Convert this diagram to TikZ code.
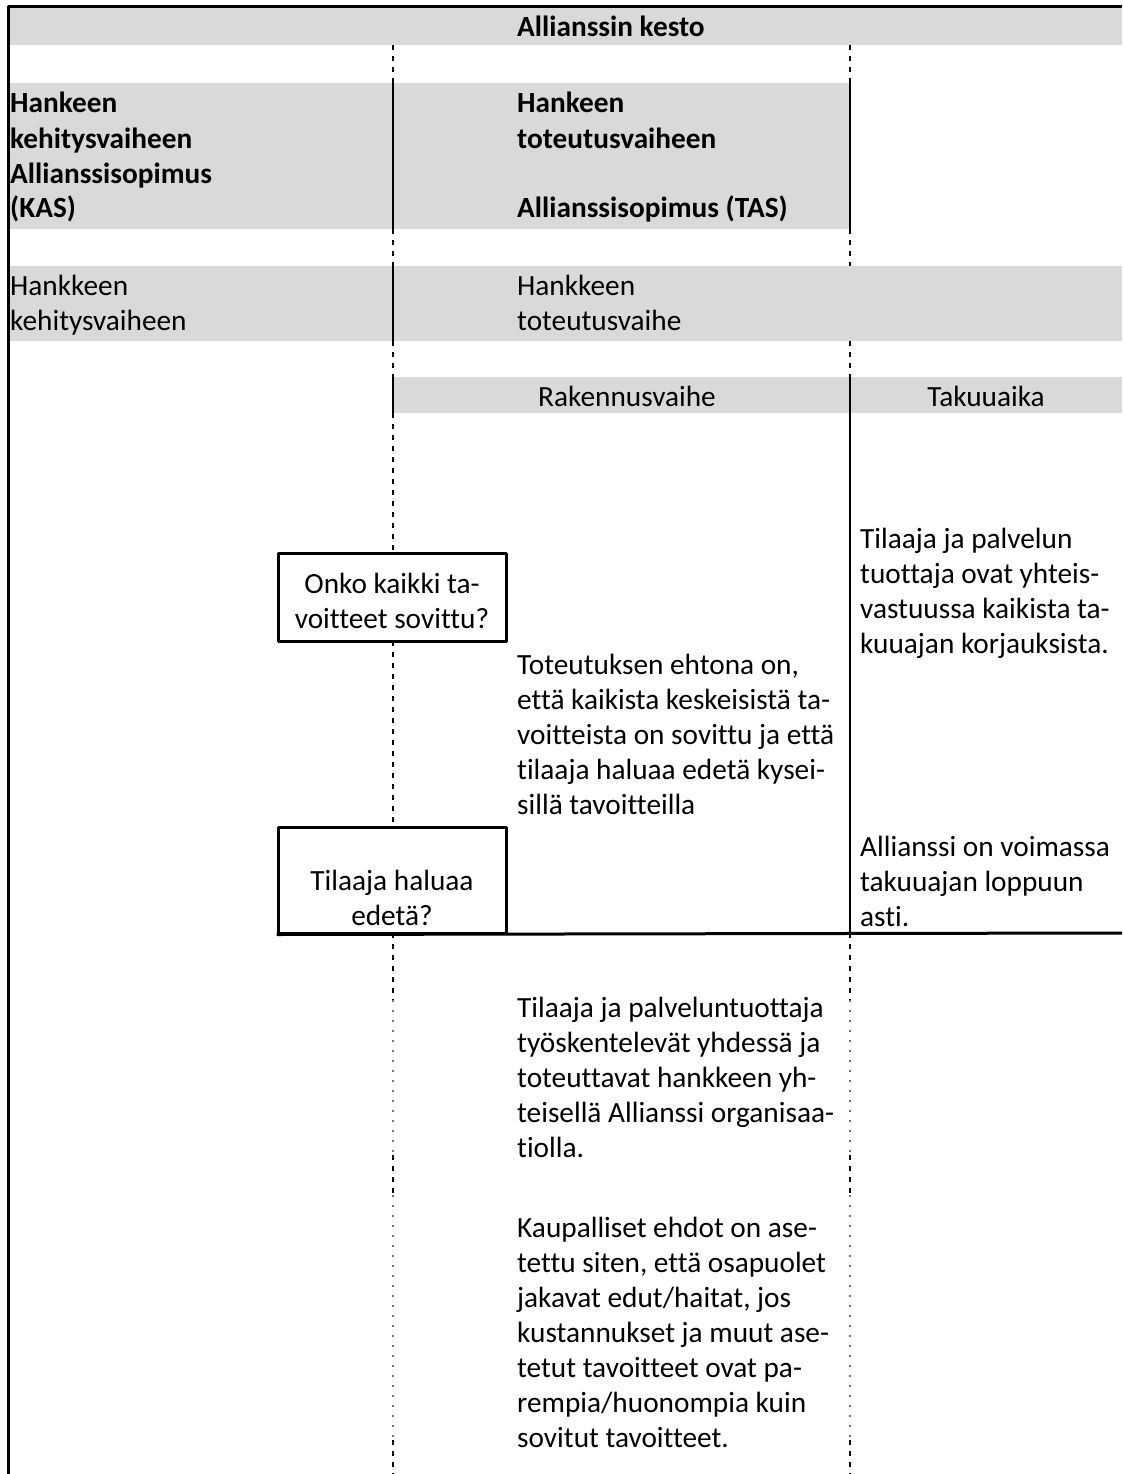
\documentclass[tikz,border=0pt]{standalone}
\usepackage{fontspec}
\setmainfont{Carlito}[Ligatures=NoCommon]
\definecolor{band}{HTML}{D9D9D9}
\begin{document}
\begin{tikzpicture}[x=1pt,y=-1pt,line join=round,
		txt/.style={anchor=base west,align=left,inner sep=0pt,font=\fontsize{29.3}{35}\selectfont},
		hd/.style={txt,font=\fontsize{29.3}{35}\selectfont\bfseries},
		mid/.style={txt,anchor=base,align=center},
		rule/.style={line width=2pt},
		split/.style={line width=2pt,dash pattern=on 5pt off 6pt},
		dots/.style={line width=1.6pt,dash pattern=on 1.6pt off 8.4pt,black!55},
		qbox/.style={draw,line width=3pt,fill=white,minimum width=228pt,inner sep=0pt}]
			\useasboundingbox (0,0) rectangle (1122,1474);
			\fill[band] (8,8) rectangle (1122,45);
			\fill[band] (8,83) rectangle (850,229);
			\fill[band] (8,266) rectangle (1122,341);
			\fill[band] (393,377) rectangle (1122,413);
			\foreach \x in {393,850}{
				\draw[rule] (\x,83)--(\x,229);
				\draw[rule] (\x,377)--(\x,413);
				\foreach \a/\b in {45/83,229/266,341/377,933/1000,1155/1195,1440/1474}
				{\draw[split] (\x,\a)--(\x,\b);}
				\foreach \a/\b in {1000/1155,1195/1440}
				{\draw[dots] (\x,\a)--(\x,\b);}
			}
			\draw[rule] (393,266)--(393,341);
			\draw[split] (393,413)--(393,553) (393,641)--(393,827);
			\draw[rule] (850,413)--(850,933);
			\draw[line width=3pt] (8,1474)--(8,7)--(1122,7);
			\node[hd] (kesto) at (517,37) {Allianssin kesto};
			\node[hd] (kas) at (10,218) {Hankeen\\kehitysvaiheen\\Allianssisopimus\\(KAS)};
			\node[hd] (tas) at (517,218) {Hankeen\\toteutusvaiheen\\[35pt]Allianssisopimus (TAS)};
			\node[txt] (kehitys) at (10,330) {Hankkeen\\kehitysvaiheen};
			\node[txt] (toteutus) at (517,330) {Hankkeen\\toteutusvaihe};
			\node[mid] (rakennus) at (627,406) {Rakennusvaihe};
			\node[mid] (takuu) at (986,406) {Takuuaika};
			\node[qbox,minimum height=88pt] (sovittu) at (392,597) {};
			\node[mid] (sovittutxt) at (392,628) {Onko kaikki ta-\\voitteet sovittu?};
			\node[qbox,minimum height=106pt] (edeta) at (392,880) {};
			\node[mid] (edetatxt) at (392,925) {Tilaaja haluaa\\edetä?};
			\draw[line width=3pt] (edeta.south west)--(1122,933);
			\node[txt] (ehto) at (517,814) {Toteutuksen ehtona on,\\että kaikista keskeisistä ta-\\voitteista on sovittu ja että\\tilaaja haluaa edetä kysei-\\sillä tavoitteilla};
			\node[txt] (vastuu) at (860,653) {Tilaaja ja palvelun\\tuottaja ovat yhteis-\\vastuussa kaikista ta-\\kuuajan korjauksista.};
			\node[txt] (voimassa) at (860,926) {Allianssi on voimassa\\takuuajan loppuun\\asti.};
			\node[txt] (yhdessa) at (517,1157) {Tilaaja ja palveluntuottaja\\työskentelevät yhdessä ja\\toteuttavat hankkeen yh-\\teisellä Allianssi organisaa-\\tiolla.};
			\node[txt] (ehdot) at (517,1447) {Kaupalliset ehdot on ase-\\tettu siten, että osapuolet\\jakavat edut/haitat, jos\\kustannukset ja muut ase-\\tetut tavoitteet ovat pa-\\rempia/huonompia kuin\\sovitut tavoitteet.};
		\end{tikzpicture}
\end{document}
